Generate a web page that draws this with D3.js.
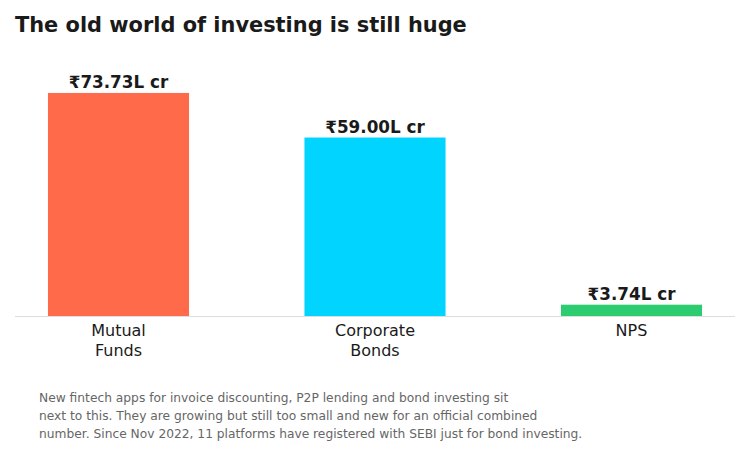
<!DOCTYPE html>
<html><head><meta charset="utf-8">
<script src="https://cdn.jsdelivr.net/npm/d3@7"></script>
<style>body{margin:0;background:#fff}svg{display:block}</style>
</head><body>
<svg id="c" width="750" height="454"></svg>
<script>
const categories = [["Mutual", "Funds"], ["Corporate", "Bonds"], ["NPS"]];
const values = [73.73, 59.00, 3.74];
const valueLabels = ["₹73.73L cr", "₹59.00L cr", "₹3.74L cr"];
const colors = ["#FF6B4A", "#00D4FF", "#2ECC71"];
const title = "The old world of investing is still huge";
const note = [
  "New fintech apps for invoice discounting, P2P lending and bond investing sit",
  "next to this. They are growing but still too small and new for an official combined",
  "number. Since Nov 2022, 11 platforms have registered with SEBI just for bond investing."
];

const svg = d3.select("#c");
const font = "DejaVu Sans, sans-serif";
const x = d3.scaleBand().domain(d3.range(values.length)).range([15, 735]).paddingInner(0.45).paddingOuter(0.1285);
const y = d3.scaleLinear().domain([0, 80]).range([316, 74]);

svg.append("text").attr("x", 15).attr("y", 31.5).attr("font-family", font).attr("font-weight", "bold")
  .attr("font-size", 20.9).attr("fill", "#1a1a1a").text(title);

svg.selectAll("rect.bar").data(values).join("rect").attr("class", "bar")
  .attr("x", (d, i) => x(i)).attr("width", x.bandwidth())
  .attr("y", d => y(d)).attr("height", d => y(0) - y(d))
  .attr("fill", (d, i) => colors[i]);

svg.append("line").attr("x1", 15).attr("x2", 735).attr("y1", y(0) + 0.5).attr("y2", y(0) + 0.5)
  .attr("stroke", "#dddddd").attr("stroke-width", 1);

svg.selectAll("text.val").data(values).join("text").attr("class", "val")
  .attr("x", (d, i) => x(i) + x.bandwidth() / 2).attr("y", d => y(d) - 5)
  .attr("text-anchor", "middle").attr("font-family", font).attr("font-weight", "bold")
  .attr("font-size", 16.8).attr("fill", "#1a1a1a").text((d, i) => valueLabels[i]);

const tl = svg.selectAll("text.tick").data(categories).join("text").attr("class", "tick")
  .attr("text-anchor", "middle").attr("font-family", font).attr("font-size", 16).attr("fill", "#1a1a1a");
tl.each(function(lines, i) {
  d3.select(this).selectAll("tspan").data(lines).join("tspan")
    .attr("x", x(i) + x.bandwidth() / 2).attr("y", (l, j) => 335.5 + j * 20.5).text(l => l);
});

svg.append("g").selectAll("text").data(note).join("text")
  .attr("x", 39).attr("y", (d, i) => 401.5 + i * 18).attr("font-family", font)
  .attr("font-size", 12.25).attr("fill", "#666666").text(d => d);
</script>
</body></html>
